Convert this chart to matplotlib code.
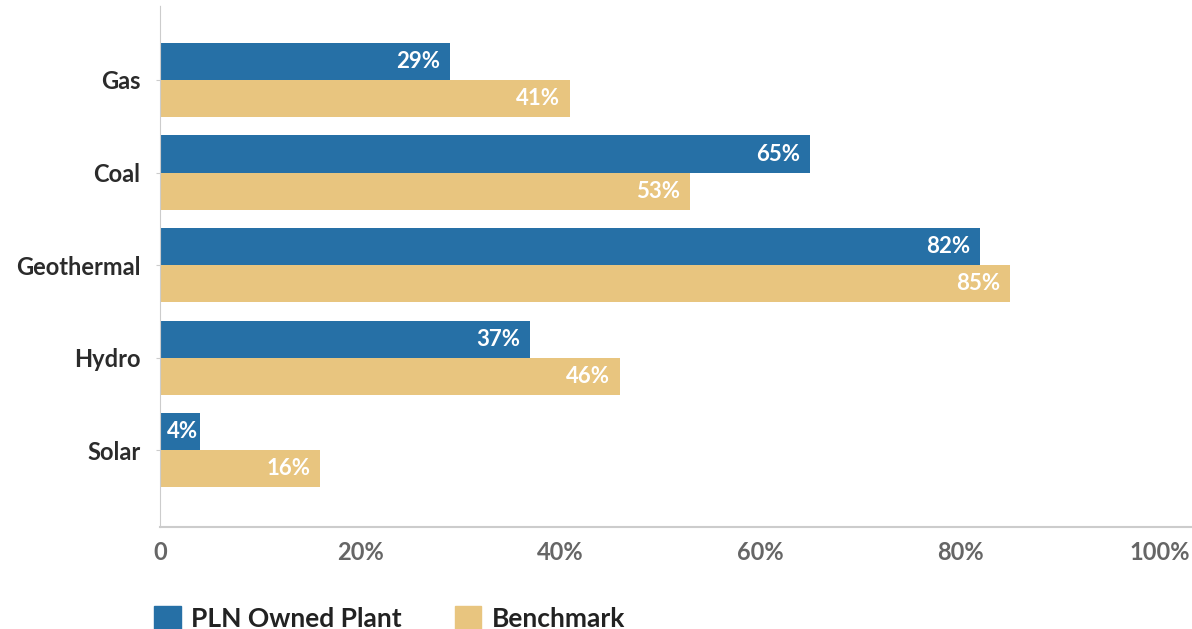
import matplotlib.pyplot as plt
import numpy as np
from matplotlib.patches import Patch

plt.rcParams['font.family'] = ['Lato', 'DejaVu Sans']

categories = ['Gas', 'Coal', 'Geothermal', 'Hydro', 'Solar']
pln_owned = [29, 65, 82, 37, 4]
benchmark = [41, 53, 85, 46, 16]
xticks = [0, 20, 40, 60, 80, 100]
xticklabels = ['0', '20%', '40%', '60%', '80%', '100%']

blue = '#2670a6'
sand = '#e8c57f'

fig = plt.figure(figsize=(11.92, 6.29), dpi=100, facecolor='w')
ax = fig.add_axes([160 / 1192, 1 - 527 / 629, 1 - 160 / 1192, 522 / 629])

y = np.arange(len(categories))[::-1]
h = 0.4
b1 = ax.barh(y + h / 2, pln_owned, height=h, color=blue)
b2 = ax.barh(y - h / 2, benchmark, height=h, color=sand)

for bars, vals in [(b1, pln_owned), (b2, benchmark)]:
    for bar, v in zip(bars, vals):
        # short bars: label hugs the end so it stays inside
        off = -7 if v >= 10 else -1.5
        ax.annotate(f'{v}%', (v, bar.get_y() + bar.get_height() / 2),
                    xytext=(off, 0), textcoords='offset points',
                    ha='right', va='center', color='white',
                    fontsize=16, fontweight='bold')

ax.set_xlim(0, 103.2)
ax.set_ylim(-0.83, 4.81)
ax.set_yticks(y)
ax.set_yticklabels(categories, fontsize=17, fontweight='bold', color='#2b2b2b')
ax.set_xticks(xticks)
ax.set_xticklabels(xticklabels, fontsize=17, fontweight='bold', color='#666666')
ax.tick_params(axis='x', length=0, pad=10)
ax.tick_params(axis='y', length=3, color='#cccccc', pad=11)

for s in ['top', 'right']:
    ax.spines[s].set_visible(False)
ax.spines['left'].set_color('#cccccc')
ax.spines['left'].set_linestyle((0, (1, 1)))
ax.spines['bottom'].set_color('#cccccc')
ax.spines['bottom'].set_linewidth(1.5)

handles = [Patch(color=blue, label='PLN Owned Plant'),
           Patch(color=sand, label='Benchmark')]
fig.legend(handles=handles, loc='upper left', ncol=2,
           bbox_to_anchor=(141 / 1192, 1 - 593 / 629),
           frameon=False, handlelength=1.0, handleheight=1.0,
           handletextpad=0.4, columnspacing=2.0, borderpad=0,
           prop={'size': 19, 'weight': 'bold'}, labelcolor='#222222')

fig.savefig('out.png', dpi=100)
